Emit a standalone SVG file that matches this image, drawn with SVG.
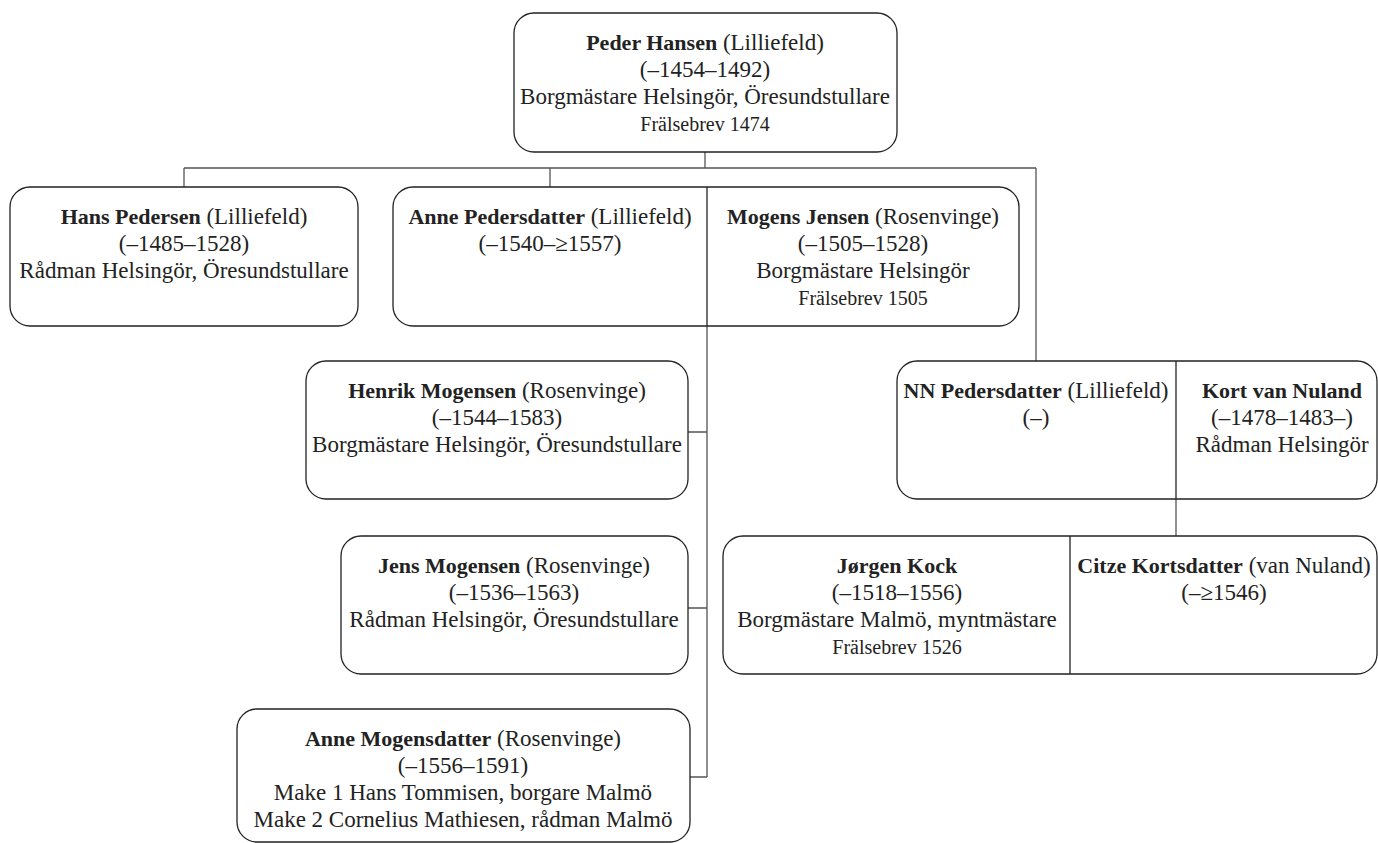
<svg xmlns="http://www.w3.org/2000/svg" width="1378" height="843" viewBox="0 0 1378 843">
<style>
.box{fill:#fff;stroke:#222;stroke-width:1.3}
.div{stroke:#222;stroke-width:1.3}
.con{fill:none;stroke:#555;stroke-width:1.3}
text{font-family:"Liberation Serif","Times New Roman",serif;font-size:23px;fill:#222;text-anchor:middle}
.b{font-weight:bold;font-size:22px}
.s{font-size:20px}
</style>
<rect width="1378" height="843" fill="#fff"/>
<g id="connectors">
<path class="con" d="M705 152V168M184 168H1036M184 168V187M550 168V187M1036 168V361"/>
<path class="con" d="M707 326V777M688 432H707M688 608H707M690 777H707"/>
<path class="con" d="M1176 499V536"/>
</g>
<g id="peder">
<rect class="box" x="514" y="13" width="383" height="139" rx="20"/>
<text x="705" y="50"><tspan class="b">Peder Hansen</tspan> (Lilliefeld)</text>
<text x="705" y="77">(–1454–1492)</text>
<text x="705" y="104">Borgmästare Helsingör, Öresundstullare</text>
<text x="705" y="131" class="s">Frälsebrev 1474</text>
</g>
<g id="hans">
<rect class="box" x="10" y="187" width="348" height="139" rx="20"/>
<text x="184" y="224"><tspan class="b">Hans Pedersen</tspan> (Lilliefeld)</text>
<text x="184" y="251">(–1485–1528)</text>
<text x="184" y="278">Rådman Helsingör, Öresundstullare</text>
</g>
<g id="anne-mogens">
<rect class="box" x="393" y="187" width="626" height="139" rx="20"/>
<line class="div" x1="707" y1="187" x2="707" y2="326"/>
<text x="550" y="224"><tspan class="b">Anne Pedersdatter</tspan> (Lilliefeld)</text>
<text x="550" y="251">(–1540–≥1557)</text>
<text x="863" y="224"><tspan class="b">Mogens Jensen</tspan> (Rosenvinge)</text>
<text x="863" y="251">(–1505–1528)</text>
<text x="863" y="278">Borgmästare Helsingör</text>
<text x="863" y="305" class="s">Frälsebrev 1505</text>
</g>
<g id="henrik">
<rect class="box" x="306" y="361" width="382" height="138" rx="20"/>
<text x="497" y="398"><tspan class="b">Henrik Mogensen</tspan> (Rosenvinge)</text>
<text x="497" y="425">(–1544–1583)</text>
<text x="497" y="452">Borgmästare Helsingör, Öresundstullare</text>
</g>
<g id="nn-kort">
<rect class="box" x="897" y="361" width="480" height="138" rx="20"/>
<line class="div" x1="1176" y1="361" x2="1176" y2="499"/>
<text x="1036" y="398"><tspan class="b">NN Pedersdatter</tspan> (Lilliefeld)</text>
<text x="1036" y="425">(–)</text>
<text x="1282" y="398" class="b">Kort van Nuland</text>
<text x="1282" y="425">(–1478–1483–)</text>
<text x="1282" y="452">Rådman Helsingör</text>
</g>
<g id="jens">
<rect class="box" x="341" y="536" width="347" height="138" rx="20"/>
<text x="514" y="573"><tspan class="b">Jens Mogensen</tspan> (Rosenvinge)</text>
<text x="514" y="600">(–1536–1563)</text>
<text x="514" y="627">Rådman Helsingör, Öresundstullare</text>
</g>
<g id="jorgen-citze">
<rect class="box" x="723" y="536" width="654" height="138" rx="20"/>
<line class="div" x1="1070" y1="536" x2="1070" y2="674"/>
<text x="897" y="573" class="b">Jørgen Kock</text>
<text x="897" y="600">(–1518–1556)</text>
<text x="897" y="627">Borgmästare Malmö, myntmästare</text>
<text x="897" y="654" class="s">Frälsebrev 1526</text>
<text x="1224" y="573"><tspan class="b">Citze Kortsdatter</tspan> (van Nuland)</text>
<text x="1224" y="600">(–≥1546)</text>
</g>
<g id="anne-mogensdatter">
<rect class="box" x="237" y="709" width="453" height="133" rx="20"/>
<text x="463" y="746"><tspan class="b">Anne Mogensdatter</tspan> (Rosenvinge)</text>
<text x="463" y="773">(–1556–1591)</text>
<text x="463" y="800">Make 1 Hans Tommisen, borgare Malmö</text>
<text x="463" y="827">Make 2 Cornelius Mathiesen, rådman Malmö</text>
</g>
</svg>
